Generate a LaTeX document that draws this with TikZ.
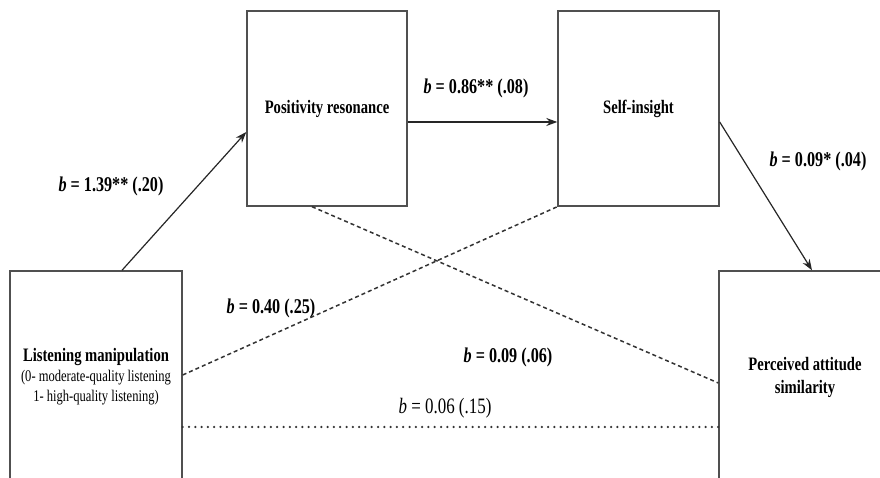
\documentclass[tikz,border=0pt]{standalone}
\usepackage{fontspec}
\setmainfont{Liberation Serif}[FakeStretch=0.77]
\usetikzlibrary{arrows.meta}
\definecolor{boxgray}{HTML}{505050}
\definecolor{linegray}{HTML}{333333}
\begin{document}
\begin{tikzpicture}[x=1pt,y=1pt,
  box/.style={draw=boxgray, line width=1.4pt, inner sep=0pt, align=center,
    font=\bfseries\fontsize{19}{23}\selectfont},
  lab/.style={inner sep=0pt, font=\bfseries\fontsize{21}{24}\selectfont},
  labr/.style={inner sep=0pt, font=\fontsize{22}{25}\selectfont},
  arr/.style={draw=black!85, line width=1.2pt, -{Stealth[length=11pt,width=8pt]}},
  dsh/.style={draw=linegray, line width=1.5pt, dash pattern=on 4pt off 3pt},
  dot/.style={draw=linegray, line width=2.5pt, line cap=round, dash pattern=on 0pt off 6.3pt}]
\useasboundingbox (0,0) rectangle (880,478);
\clip (0,0) rectangle (880,478);
\node[box, minimum width=172pt, minimum height=212pt] (L) at (96,101)
  {Listening manipulation\\[-3pt]
   {\mdseries\fontsize{16.3}{19.5}\selectfont (0- moderate-quality listening}\\[-3pt]
   {\mdseries\fontsize{16.3}{19.5}\selectfont 1- high-quality listening)}};
\node[box, minimum width=160pt, minimum height=195pt] (P) at (327,369.5) {Positivity resonance};
\node[box, minimum width=161pt, minimum height=195pt] (S) at (638.5,369.5) {Self-insight};
\node[box, minimum width=172pt, minimum height=212pt] (A) at (805,101) {Perceived attitude\\similarity};

\draw[arr] ([xshift=26pt]L.north) -- ([yshift=-23.5pt]P.west);
\draw[arr] ([yshift=-13.5pt]P.east) -- ([yshift=-13.5pt]S.west);
\draw[arr] ([yshift=-13.5pt]S.east) -- ([xshift=7pt]A.north);
\draw[dsh] ([xshift=-15pt]P.south) -- ([yshift=-6pt]A.west);
\draw[dsh] ([yshift=2pt]L.east) -- (S.south west);
\draw[dot] ([yshift=-50pt]L.east) -- ([yshift=-50pt]A.west);

\node[lab] (l1) at (111,292) {\textit{b} = 1.39** (.20)};
\node[lab] (l2) at (476,390) {\textit{b} = 0.86** (.08)};
\node[lab] (l3) at (818,317) {\textit{b} = 0.09* (.04)};
\node[lab] (l4) at (271,170) {\textit{b} = 0.40 (.25)};
\node[lab] (l5) at (508,121) {\textit{b} = 0.09 (.06)};
\node[labr] (l6) at (445,70) {\textit{b} = 0.06 (.15)};
\end{tikzpicture}
\end{document}
